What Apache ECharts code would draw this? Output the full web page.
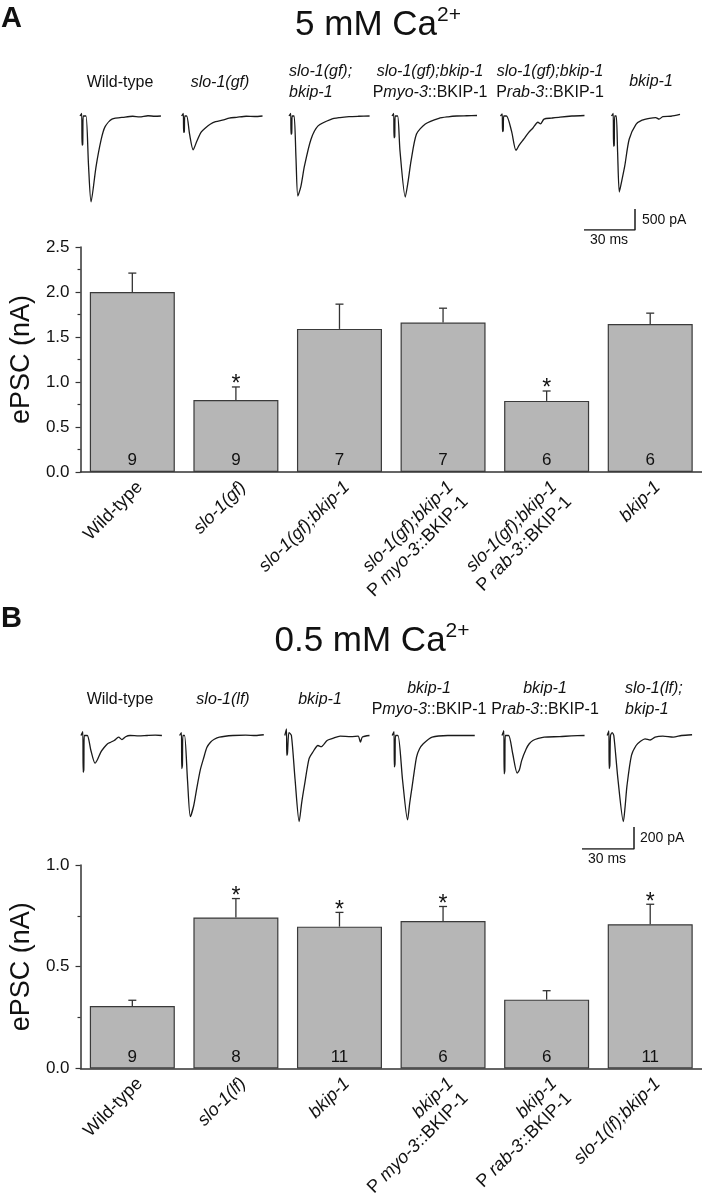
<!DOCTYPE html>
<html><head><meta charset="utf-8">
<script src="https://cdn.jsdelivr.net/npm/echarts@6/dist/echarts.min.js"></script>
<style>html,body{margin:0;padding:0;background:#fff}#c{width:702px;height:1200px}</style>
</head><body><div id="c"></div>
<script>
const FONT = '"Liberation Sans", Arial, sans-serif';
const INK = '#111';

// ---------- Panel A (5 mM Ca2+) bar data ----------
const categoriesA = ['Wild-type', 'slo-1(gf)', 'slo-1(gf);bkip-1', 'slo-1(gf);bkip-1\nPmyo-3::BKIP-1', 'slo-1(gf);bkip-1\nPrab-3::BKIP-1', 'bkip-1'];
const meansA = [2.00, 0.80, 1.59, 1.66, 0.79, 1.645];
const semA = [0.21, 0.145, 0.275, 0.16, 0.11, 0.12];
const countsA = [9, 9, 7, 7, 6, 6];
const signifA = [0, 1, 0, 0, 1, 0];
const yMaxA = 2.5;

// ---------- Panel B (0.5 mM Ca2+) bar data ----------
const categoriesB = ['Wild-type', 'slo-1(lf)', 'bkip-1', 'bkip-1\nPmyo-3::BKIP-1', 'bkip-1\nPrab-3::BKIP-1', 'slo-1(lf);bkip-1'];
const meansB = [0.307, 0.742, 0.697, 0.725, 0.338, 0.709];
const semB = [0.028, 0.093, 0.070, 0.071, 0.044, 0.098];
const countsB = [9, 8, 11, 6, 6, 11];
const signifB = [0, 1, 1, 1, 0, 1];
const yMaxB = 1.0;
const yInterval = 0.5;

// ---------- Example traces, [time ms, current pA] ----------
const traceLabelsA = ['Wild-type', 'slo-1(gf)', 'slo-1(gf);\nbkip-1', 'slo-1(gf);bkip-1\nPmyo-3::BKIP-1', 'slo-1(gf);bkip-1\nPrab-3::BKIP-1', 'bkip-1'];
const traceA_wt = [[0,0],[1,60],[1.2,-695],[1.6,-670],[1.9,0],[3.5,0],[5,-1165],[6.5,-2045],[9.4,-1215],[12.4,-570],[14.7,-260],[18.8,-75],[26.5,-25],[31,-6],[35,-19],[40,6],[44,-6],[47.6,0]];
const traceA_gf = [[0,0],[1,60],[1.2,-390],[1.6,-372],[1.9,0],[3,0],[4.7,-434],[6.8,-806],[9,-595],[11.5,-384],[14,-285],[16.8,-198],[20,-136],[24.7,-93],[28,-50],[32.4,-31],[38,-6],[43,-12],[47.6,0]];
const traceA_gfBkip = [[0,0],[1,60],[1.2,-434],[1.6,-409],[1.9,0],[3,0],[4.1,-992],[5.2,-1905],[7,-1674],[9.1,-1190],[12.9,-558],[17.1,-236],[24.7,-78],[30,-37],[35.3,-15],[41,-6],[47.4,0]];
const traceA_myo = [[0,0],[1,60],[1.2,-521],[1.6,-496],[1.9,0],[3.3,0],[4.7,-831],[7.8,-1928],[9.5,-1550],[11.2,-1071],[14.4,-429],[19.6,-191],[27.6,-55],[33,-19],[38.1,0],[44,6],[50,12]];
const traceA_rab = [[0,0],[1,50],[1.2,-372],[1.6,-347],[1.9,0],[3.5,0],[6.5,-360],[9.1,-818],[11,-694],[13.8,-546],[16.5,-397],[19.1,-285],[22,-149],[23.5,-186],[25.6,-74],[30,-50],[35,-25],[42,0],[49.4,12]];
const traceA_bkip = [[0,0],[1,60],[1.2,-719],[1.6,-694],[1.9,0],[2.8,0],[3.6,-868],[4.6,-1810],[6,-1550],[7.8,-1190],[10.4,-554],[14.4,-198],[18,-99],[22.3,-55],[26,-37],[28,-74],[30.2,-15],[35,-6],[40.3,37]];

const traceLabelsB = ['Wild-type', 'slo-1(lf)', 'bkip-1', 'bkip-1\nPmyo-3::BKIP-1', 'bkip-1\nPrab-3::BKIP-1', 'slo-1(lf);\nbkip-1'];
const traceB_wt = [[0,0],[1.05,34],[1.24,-334],[1.62,-314],[1.91,0],[3.63,0],[5.72,-136],[8.11,-252],[9.54,-218],[11.45,-151],[13.36,-109],[15.36,-75],[17.17,-61],[19.18,-45],[21.75,-15],[23.66,-37],[25.76,-11],[28.33,0],[33.39,-4],[38.16,0],[42.93,3],[46.75,0]];
const traceB_lf = [[0,0],[1.05,27],[1.24,-300],[1.62,-273],[1.91,0],[2.86,0],[4.58,-409],[6.2,-737],[8.11,-641],[10.02,-471],[11.93,-314],[14.02,-198],[15.74,-109],[17.84,-61],[20.03,-34],[22.99,-15],[30.81,0],[38.16,4],[43.88,0],[48.65,7]];
const traceB_bkip = [[0,0],[0.95,61],[1.14,-181],[1.53,-164],[2.39,27],[3.82,0],[5.91,-396],[8.3,-783],[9.73,-614],[11.35,-454],[14.02,-211],[16.22,-150],[19.18,-91],[20.99,-102],[24.42,-45],[27.67,-27],[31.96,-5],[38.16,-11],[42.36,-5],[43.69,-60],[44.84,-14],[48.94,0]];
const traceB_myo = [[0,0],[1.05,34],[1.24,-286],[1.62,-259],[1.91,0],[3.34,0],[6.01,-409],[8.87,-767],[10.11,-614],[11.45,-471],[14.02,-198],[15.74,-123],[17.94,-75],[23.09,-15],[32.15,0],[40.07,0],[47.7,0]];
const traceB_rab = [[0,0],[1.05,45],[1.24,-348],[1.62,-321],[1.91,0],[3.82,0],[6.2,-166],[8.78,-342],[10.02,-314],[11.35,-228],[14.02,-121],[15.74,-75],[17.84,-45],[20.99,-27],[24.33,-15],[33.39,-10],[40.07,-4],[47.7,0]];
const traceB_lfBkip = [[0,0],[0.95,41],[1.14,-300],[1.53,-273],[1.91,0],[2.86,27],[3.82,0],[6.2,-396],[9.35,-783],[10.3,-655],[11.45,-454],[14.02,-181],[16.7,-91],[19.08,-55],[21.85,-30],[24.8,-41],[27.67,-14],[32.15,-5],[38.16,-14],[42.93,0],[49.04,7]];

const scaleBarA = { ms: 30, pA: 500 };
const scaleBarB = { ms: 30, pA: 200 };

// ---------- helpers ----------
const richStyles = (size) => ({
  n: { fontSize: size, fontFamily: FONT, color: INK },
  i: { fontSize: size, fontFamily: FONT, color: INK, fontStyle: 'italic' }
});
function richName(name, pSpace) {
  return name.split('\n').map(line => {
    if (line === 'Wild-type') return '{n|Wild-type}';
    const m = line.match(/^P([a-z]+-\d)(::.*)$/);
    if (m) return '{n|P' + (pSpace ? ' ' : '') + '}{i|' + m[1] + '}{n|' + m[2] + '}';
    return '{i|' + line + '}';
  }).join('\n');
}

const grids = [], xAxes = [], yAxes = [], series = [];

function addBarPanel(box, cats, means, sems, counts, sig, yMax) {
  const gi = grids.length;
  grids.push(box);
  xAxes.push({
    type: 'category', gridIndex: gi, data: cats,
    axisLine: { lineStyle: { color: '#333', width: 1.5 } },
    axisTick: { show: false },
    axisLabel: {
      interval: 0, rotate: 45, margin: 5, verticalAlign: 'top',
      formatter: v => richName(v, true), rich: richStyles(18), lineHeight: 21
    }
  });
  yAxes.push({
    type: 'value', gridIndex: gi, min: 0, max: yMax, interval: yInterval,
    axisLine: { show: true, lineStyle: { color: '#333', width: 1.5 } },
    axisTick: { show: true, length: 5, lineStyle: { color: '#333', width: 1.2 } },
    minorTick: { show: true, splitNumber: 2, length: 3, lineStyle: { color: '#333', width: 1.2 } },
    splitLine: { show: false },
    axisLabel: { formatter: v => v.toFixed(1), fontSize: 17, fontFamily: FONT, color: INK, margin: 11 },
    name: 'ePSC (nA)', nameLocation: 'middle', nameGap: 36,
    nameTextStyle: { fontSize: 27, fontFamily: FONT, color: INK }
  });
  series.push({
    type: 'bar', xAxisIndex: gi, yAxisIndex: gi, data: means, barWidth: 85,
    itemStyle: { color: '#b6b6b6', borderColor: '#3a3a3a', borderWidth: 1.2 },
    label: { show: true, position: 'insideBottom', distance: 3, formatter: p => String(counts[p.dataIndex]),
      fontSize: 17, fontFamily: FONT, color: INK },
    silent: true
  });
  series.push({
    type: 'custom', xAxisIndex: gi, yAxisIndex: gi,
    data: means.map((m, i) => [i, m, sems[i], sig[i]]),
    renderItem: (params, api) => {
      const i = api.value(0), m = api.value(1), e = api.value(2), s = api.value(3);
      const p0 = api.coord([i, m]), p1 = api.coord([i, m + e]);
      const st = { stroke: '#333', lineWidth: 1.3 };
      const children = [
        { type: 'line', shape: { x1: p0[0], y1: p0[1], x2: p1[0], y2: p1[1] }, style: st },
        { type: 'line', shape: { x1: p1[0] - 4, y1: p1[1], x2: p1[0] + 4, y2: p1[1] }, style: st }
      ];
      if (s) children.push({ type: 'text', style: { text: '*', x: p1[0], y: p1[1] - 2, textAlign: 'center', textVerticalAlign: 'middle',
        fontSize: 23, fontFamily: FONT, fill: INK } });
      return { type: 'group', children };
    },
    silent: true, z: 5
  });
}

function addTrace(box, data, xRange, yRange) {
  const gi = grids.length;
  grids.push(box);
  xAxes.push({ type: 'value', gridIndex: gi, min: xRange[0], max: xRange[1], show: false });
  yAxes.push({ type: 'value', gridIndex: gi, min: yRange[0], max: yRange[1], show: false });
  series.push({ type: 'line', xAxisIndex: gi, yAxisIndex: gi, data, showSymbol: false, smooth: 0.25,
    lineStyle: { color: '#1a1a1a', width: 1.3 }, silent: true });
}

// bar charts
addBarPanel({ left: 70, top: 247, width: 632, height: 225 }, categoriesA, meansA, semA, countsA, signifA, yMaxA);
addBarPanel({ left: 70, top: 865, width: 632, height: 225 }, categoriesB, meansB, semB, countsB, signifB, yMaxB);

// traces panel A: 1.7 px/ms, 0.042 px/pA
const tracesA = [traceA_wt, traceA_gf, traceA_gfBkip, traceA_myo, traceA_rab, traceA_bkip];
const traceLeftA = [80, 181.6, 289, 392, 500.5, 611.5];
tracesA.forEach((t, k) => addTrace({ left: traceLeftA[k], top: 105.5, width: 88.4, height: 105 }, t, [0, 52], [-2250, 250]));
// traces panel B: 1.73 px/ms, 0.11 px/pA
const tracesB = [traceB_wt, traceB_lf, traceB_bkip, traceB_myo, traceB_rab, traceB_lfBkip];
const traceLeftB = [81, 179.6, 284.8, 392.2, 502, 607.2];
tracesB.forEach((t, k) => addTrace({ left: traceLeftB[k], top: 726.7, width: 90, height: 96.8 }, t, [0, 52], [-800, 80]));

// scale bars (same scales as traces)
function addScaleBar(box, sb) {
  const gi = grids.length;
  grids.push(box);
  xAxes.push({ type: 'value', gridIndex: gi, min: 0, max: sb.ms, show: false });
  yAxes.push({ type: 'value', gridIndex: gi, min: 0, max: sb.pA, show: false });
  series.push({ type: 'line', xAxisIndex: gi, yAxisIndex: gi, data: [[0, 0], [sb.ms, 0], [sb.ms, sb.pA]],
    showSymbol: false, lineStyle: { color: '#1a1a1a', width: 1.5 }, silent: true });
}
addScaleBar({ left: 584, top: 209, width: 51, height: 21 }, scaleBarA);
addScaleBar({ left: 582, top: 827, width: 52, height: 22 }, scaleBarB);

// texts
const g = [];
function txt(text, x, y, size, align, extra) {
  g.push({ type: 'text', silent: true, style: Object.assign({ text, x, y, fontSize: size, fontFamily: FONT, fill: INK,
    textAlign: align || 'center', textVerticalAlign: 'middle' }, extra || {}) });
}
txt('A', 1, 19, 29, 'left', { fontWeight: 'bold' });
txt('B', 1, 619, 29, 'left', { fontWeight: 'bold' });
const titleRich = { a: { fontSize: 35, fontFamily: FONT, color: INK, lineHeight: 40 }, s: { fontSize: 21, fontFamily: FONT, color: INK, verticalAlign: 'top', lineHeight: 40 } };
txt('{a|5 mM Ca}{s|2+}', 378, 25, 35, 'center', { rich: titleRich });
txt('{a|0.5 mM Ca}{s|2+}', 372, 641, 35, 'center', { rich: titleRich });

const tlA = [[120, 83, 'center'], [220, 83, 'center'], [289, 82.5, 'left'], [430, 82.5, 'center'], [550, 82.5, 'center'], [651, 82, 'center']];
traceLabelsA.forEach((l, k) => txt(richName(l, false), tlA[k][0], tlA[k][1], 16, tlA[k][2], { rich: richStyles(16), lineHeight: 21 }));
const tlB = [[120, 700, 'center'], [223, 700, 'center'], [320, 700, 'center'], [429, 699, 'center'], [545, 699, 'center'], [625, 699, 'left']];
traceLabelsB.forEach((l, k) => txt(richName(l, false), tlB[k][0], tlB[k][1], 16, tlB[k][2], { rich: richStyles(16), lineHeight: 21 }));

txt(scaleBarA.pA + ' pA', 642, 220, 14, 'left');
txt(scaleBarA.ms + ' ms', 609, 240, 14, 'center');
txt(scaleBarB.pA + ' pA', 640, 838, 14, 'left');
txt(scaleBarB.ms + ' ms', 607, 859, 14, 'center');

const chart = echarts.init(document.getElementById('c'), null, { renderer: 'canvas' });
chart.setOption({
  animation: false,
  textStyle: { fontFamily: FONT, color: INK },
  grid: grids, xAxis: xAxes, yAxis: yAxes, series, graphic: g
});
</script></body></html>
